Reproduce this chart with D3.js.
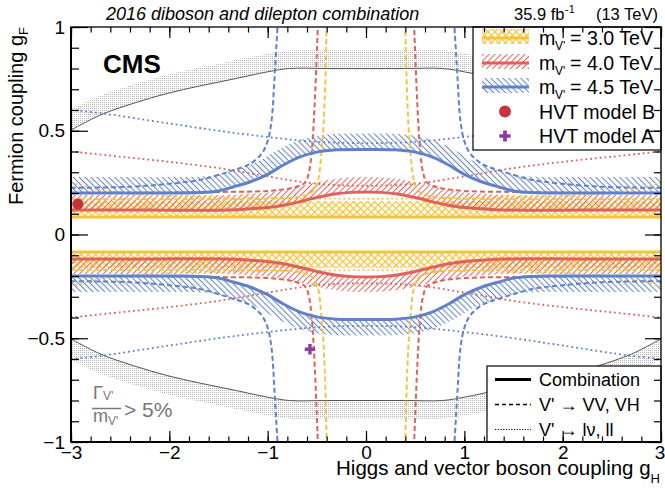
<!DOCTYPE html>
<html>
<head>
<meta charset="utf-8">
<script src="https://cdn.jsdelivr.net/npm/d3@7"></script>
<style>
  body { margin: 0; background: #fff; }
  svg { display: block; font-family: "Liberation Sans", Arial, sans-serif; }
</style>
</head>
<body>
<svg id="chart" width="665" height="496"></svg>
<script>
// limits: upper-left branch only (gH <= 0, gF > 0),
// the other three quadrants are mirror images of it
const combYellow = [[-3, 0.084], [-2, 0.084], [-1, 0.084], [0, 0.084]];
const combRed = [[-3, 0.118], [-2.2, 0.118], [-1.4, 0.118], [-1.18, 0.124], [-1.0, 0.13], [-0.85, 0.14], [-0.7, 0.155], [-0.5, 0.178], [-0.3, 0.196], [-0.15, 0.203], [0, 0.205]];
const combBlue = [[-3, 0.2], [-2.4, 0.2], [-1.9, 0.2], [-1.69, 0.202], [-1.5, 0.21], [-1.35, 0.229], [-1.18, 0.253], [-1.0, 0.29], [-0.84, 0.335], [-0.67, 0.374], [-0.5, 0.397], [-0.3, 0.408], [0, 0.41]];

const vvYellow = [[-3, 0.17], [-2, 0.17], [-1, 0.172], [-0.7, 0.18], [-0.56, 0.2], [-0.5, 0.24], [-0.45, 0.41], [-0.42, 0.65], [-0.4, 1.0]];
const vvRed = [[-3, 0.2], [-2, 0.202], [-1.5, 0.205], [-1.0, 0.21], [-0.75, 0.225], [-0.62, 0.25], [-0.58, 0.3], [-0.55, 0.41], [-0.52, 0.65], [-0.49, 1.0]];
const vvBlue = [[-3, 0.225], [-2.4, 0.23], [-2.0, 0.245], [-1.69, 0.263], [-1.35, 0.31], [-1.18, 0.34], [-1.06, 0.39], [-1.0, 0.45], [-0.96, 0.55], [-0.93, 0.76], [-0.9, 1.0]];

const llYellow = [[-3, 0.25], [-2.7, 0.215], [-2.2, 0.19], [-1.5, 0.18], [-0.8, 0.175], [0, 0.172]];
const llRed = [[-3, 0.40], [-2.5, 0.375], [-2.0, 0.35], [-1.5, 0.32], [-1.0, 0.28], [-0.6, 0.25], [-0.3, 0.238], [0, 0.235]];
const llBlue = [[-3, 0.60], [-2.7, 0.585], [-2.0, 0.535], [-1.5, 0.50], [-1.0, 0.47], [-0.5, 0.447], [0, 0.44]];

// Gamma/m = 5% contour
const widthLine = [[-3, 0.503], [-2.7, 0.576], [-2.36, 0.633], [-2.02, 0.68], [-1.69, 0.716], [-1.35, 0.749], [-1.0, 0.784], [-0.78, 0.8], [-0.4, 0.8], [0, 0.8]];

const modelB = [[-2.93, 0.147]];
const modelA = [[-0.57, -0.553]];

const massLabels = ['3.0', '4.0', '4.5'];
const styleLabels = ['Combination', 'V\' \u2192 VV, VH', 'V\' \u2192 l\u03bd, ll'];
const xTicks = [-3, -2, -1, 0, 1, 2, 3];
const yTicks = [-1, -0.5, 0, 0.5, 1];

const colors = { yellow: '#f4c53c', red: '#e0605a', blue: '#6080c8' };

const svg = d3.select('#chart');
const x = d3.scaleLinear().domain([-3, 3]).range([71, 661]);
const y = d3.scaleLinear().domain([-1, 1]).range([442, 27]);

const line = d3.line().x((d) => x(d[0])).y((d) => y(d[1])).curve(d3.curveCatmullRom.alpha(0.5));

// mirror helpers
const across = (pts) => pts.concat(pts.slice(0, -1).reverse().map(([h, f]) => [-h, f]));
const flipF = (pts, s) => pts.map(([h, f]) => [h, s * f]);
const flipH = (pts) => pts.map(([h, f]) => [-h, f]);

/* ---------- patterns ---------- */
const defs = svg.append('defs');
defs.append('clipPath').attr('id', 'plot')
  .append('rect').attr('x', x(-3)).attr('y', y(1)).attr('width', x(3) - x(-3)).attr('height', y(-1) - y(1));

function hatch(id, color, angle, gap, sw, cross) {
  const p = defs.append('pattern').attr('id', id).attr('patternUnits', 'userSpaceOnUse')
    .attr('width', gap).attr('height', gap).attr('patternTransform', `rotate(${angle})`);
  p.append('line').attr('x1', gap / 2).attr('y1', -1).attr('x2', gap / 2).attr('y2', gap + 1)
    .attr('stroke', color).attr('stroke-width', sw);
  if (cross) {
    p.append('line').attr('x1', -1).attr('y1', gap / 2).attr('x2', gap + 1).attr('y2', gap / 2)
      .attr('stroke', color).attr('stroke-width', sw);
  }
}
hatch('hY', colors.yellow, 45, 5, 1.3, true);
hatch('hR', colors.red, 45, 4.2, 1);
hatch('hB', colors.blue, -45, 4.2, 1);

const dots = defs.append('pattern').attr('id', 'dots').attr('patternUnits', 'userSpaceOnUse')
  .attr('width', 2).attr('height', 2);
dots.append('rect').attr('width', 1).attr('height', 1).attr('fill', '#b4b4b4');

/* ---------- hatched side of a line (offset in pixels) ---------- */
function sample(pts) {
  const p = svg.append('path').attr('d', line(pts));
  const node = p.node();
  const len = node.getTotalLength();
  const out = [];
  for (let s = 0; s < len; s += 1.5) {
    const q = node.getPointAtLength(s);
    out.push([q.x, q.y]);
  }
  const q = node.getPointAtLength(len);
  out.push([q.x, q.y]);
  p.remove();
  return out;
}

function band(pts, w, dir) {
  const a = sample(pts);
  const off = a.map((p, i) => {
    const p0 = a[Math.max(i - 1, 0)];
    const p1 = a[Math.min(i + 1, a.length - 1)];
    const tx = p1[0] - p0[0];
    const ty = p1[1] - p0[1];
    const n = Math.hypot(tx, ty) || 1;
    return [p[0] + dir * (-ty / n) * w, p[1] + dir * (tx / n) * w];
  });
  return `M${a.concat(off.reverse()).map((p) => p.join(',')).join('L')}Z`;
}

const plot = svg.append('g').attr('clip-path', 'url(#plot)');

// width contour with its stippled side
[1, -1].forEach((s) => {
  plot.append('path').attr('d', band(flipF(across(widthLine), s), 18, -s)).attr('fill', 'url(#dots)');
});
[1, -1].forEach((s) => {
  plot.append('path').attr('d', line(flipF(across(widthLine), s)))
    .attr('fill', 'none').attr('stroke', '#555').attr('stroke-width', 1);
});

const masses = [
  { comb: combYellow, vv: vvYellow, ll: llYellow, color: colors.yellow, pat: 'hY', w: 16 },
  { comb: combRed, vv: vvRed, ll: llRed, color: colors.red, pat: 'hR', w: 15 },
  { comb: combBlue, vv: vvBlue, ll: llBlue, color: colors.blue, pat: 'hB', w: 16 },
];

// hatched excluded side
masses.forEach((m) => {
  [1, -1].forEach((s) => {
    plot.append('path').attr('d', band(flipF(across(m.comb), s), m.w, -s)).attr('fill', `url(#${m.pat})`);
  });
});

// dilepton limits (dotted)
masses.forEach((m) => {
  [1, -1].forEach((s) => {
    plot.append('path').attr('d', line(flipF(across(m.ll), s)))
      .attr('fill', 'none').attr('stroke', m.color).attr('stroke-width', 1.8)
      .attr('stroke-dasharray', '1.8,3');
  });
});

// diboson limits (dashed)
masses.forEach((m) => {
  [1, -1].forEach((s) => {
    [m.vv, flipH(m.vv)].forEach((branch) => {
      plot.append('path').attr('d', line(flipF(branch, s)))
        .attr('fill', 'none').attr('stroke', m.color).attr('stroke-width', 2)
        .attr('stroke-dasharray', '5,3');
    });
  });
});

// combination (solid)
masses.forEach((m) => {
  [1, -1].forEach((s) => {
    plot.append('path').attr('d', line(flipF(across(m.comb), s)))
      .attr('fill', 'none').attr('stroke', m.color).attr('stroke-width', 3);
  });
});

// benchmark models
plot.selectAll('.mb').data(modelB).enter().append('circle')
  .attr('cx', (d) => x(d[0])).attr('cy', (d) => y(d[1])).attr('r', 5.5).attr('fill', '#c8323a');
plot.selectAll('.ma').data(modelA).enter().append('path')
  .attr('transform', (d) => `translate(${x(d[0])},${y(d[1])})`)
  .attr('d', d3.symbol(d3.symbolCross, 60)).attr('fill', '#8c3ca0');

/* ---------- Gamma/m label ---------- */
const gm = svg.append('g').attr('fill', '#777');
gm.append('text').attr('x', 93).attr('y', 398.5).attr('font-size', 18).text('\u0393')
  .append('tspan').attr('font-size', 12).attr('dy', 1).text('V\'');
gm.append('line').attr('x1', 92).attr('x2', 121).attr('y1', 408.5).attr('y2', 408.5)
  .attr('stroke', '#777').attr('stroke-width', 1.5);
gm.append('text').attr('x', 93).attr('y', 422).attr('font-size', 18).text('m')
  .append('tspan').attr('font-size', 12).attr('dy', 3).text('V\'');
gm.append('text').attr('x', 124).attr('y', 417).attr('font-size', 21).text('> 5%');

/* ---------- legends ---------- */
const leg1 = svg.append('g');
leg1.append('rect').attr('x', 473).attr('y', 27).attr('width', 188).attr('height', 123)
  .attr('fill', '#fff').attr('stroke', '#000').attr('stroke-width', 1.2);
const rows1 = [38, 63, 87, 111.5, 136];
masses.forEach((m, i) => {
  const cy = rows1[i];
  leg1.append('rect').attr('x', 482).attr('y', cy - 9).attr('width', 47).attr('height', 15)
    .attr('fill', `url(#${m.pat})`);
  leg1.append('line').attr('x1', 482).attr('x2', 529).attr('y1', cy).attr('y2', cy)
    .attr('stroke', m.color).attr('stroke-width', 3);
  leg1.append('text').attr('x', 539).attr('y', cy + 7).attr('font-size', 19.6).text('m');
  leg1.append('text').attr('x', 555).attr('y', cy + 12).attr('font-size', 12).text('V\'');
  leg1.append('text').attr('x', 570).attr('y', cy + 7).attr('font-size', 19.6).text(`= ${massLabels[i]} TeV`);
});
leg1.append('circle').attr('cx', 505).attr('cy', rows1[3]).attr('r', 6).attr('fill', '#c8323a');
leg1.append('path').attr('transform', `translate(505,${rows1[4]})`)
  .attr('d', d3.symbol(d3.symbolCross, 70)).attr('fill', '#8c3ca0');
leg1.append('text').attr('x', 539).attr('y', rows1[3] + 7).attr('font-size', 19.6).text('HVT model B');
leg1.append('text').attr('x', 539).attr('y', rows1[4] + 7).attr('font-size', 19.6).text('HVT model A');

const leg2 = svg.append('g');
leg2.append('rect').attr('x', 487).attr('y', 366).attr('width', 174).attr('height', 76)
  .attr('fill', '#fff').attr('stroke', '#000').attr('stroke-width', 1.2);
const rows2 = [379.5, 404.5, 429.5];
const dashes = [null, '4,3', '1.2,1.5'];
const widths = [3, 1.5, 1.2];
styleLabels.forEach((label, i) => {
  leg2.append('line').attr('x1', 495).attr('x2', 531).attr('y1', rows2[i]).attr('y2', rows2[i])
    .attr('stroke', '#000').attr('stroke-width', widths[i]).attr('stroke-dasharray', dashes[i]);
  leg2.append('text').attr('x', 539).attr('y', rows2[i] + 6.5).attr('font-size', 18).text(label);
});

/* ---------- frame and axes ---------- */
function styleAxis(g) {
  g.select('.domain').remove();
  g.selectAll('line').attr('stroke', '#000').attr('stroke-width', 1.2);
  g.attr('font-family', null).attr('font-size', 19);
  g.selectAll('text').attr('fill', '#000');
}
const xMinor = d3.range(-3, 3.001, 0.2);
const yMinor = d3.range(-1, 1.001, 0.1);
const fmt = d3.format('');

const xAxisG = svg.append('g').attr('transform', `translate(0,${y(-1)})`)
  .call(d3.axisBottom(x).tickValues(xTicks).tickSizeInner(-11).tickSizeOuter(0).tickPadding(4).tickFormat(fmt))
  .call(styleAxis);
// keep the last label inside the window
xAxisG.selectAll('text').filter((d) => d === 3).attr('dx', -1.5);
svg.append('g').attr('transform', `translate(0,${y(-1)})`)
  .call(d3.axisBottom(x).tickValues(xMinor).tickSizeInner(-5.5).tickSizeOuter(0).tickFormat(''))
  .call(styleAxis);
svg.append('g').attr('transform', `translate(0,${y(1)})`)
  .call(d3.axisTop(x).tickValues(xTicks).tickSizeInner(-11).tickSizeOuter(0).tickFormat(''))
  .call(styleAxis);
svg.append('g').attr('transform', `translate(0,${y(1)})`)
  .call(d3.axisTop(x).tickValues(xMinor).tickSizeInner(-5.5).tickSizeOuter(0).tickFormat(''))
  .call(styleAxis);
svg.append('g').attr('transform', `translate(${x(-3)},0)`)
  .call(d3.axisLeft(y).tickValues(yTicks).tickSizeInner(-17).tickSizeOuter(0).tickPadding(6).tickFormat(fmt))
  .call(styleAxis);
svg.append('g').attr('transform', `translate(${x(-3)},0)`)
  .call(d3.axisLeft(y).tickValues(yMinor).tickSizeInner(-8).tickSizeOuter(0).tickFormat(''))
  .call(styleAxis);
svg.append('g').attr('transform', `translate(${x(3)},0)`)
  .call(d3.axisRight(y).tickValues(yTicks).tickSizeInner(-16).tickSizeOuter(0).tickFormat(''))
  .call(styleAxis);
svg.append('g').attr('transform', `translate(${x(3)},0)`)
  .call(d3.axisRight(y).tickValues(yMinor).tickSizeInner(-7).tickSizeOuter(0).tickFormat(''))
  .call(styleAxis);

svg.append('rect').attr('x', x(-3)).attr('y', y(1)).attr('width', x(3) - x(-3)).attr('height', y(-1) - y(1))
  .attr('fill', 'none').attr('stroke', '#000').attr('stroke-width', 1.3);
svg.append('line').attr('x1', x(-3)).attr('x2', x(-3)).attr('y1', y(1)).attr('y2', y(-1))
  .attr('stroke', '#000').attr('stroke-width', 2);
svg.append('line').attr('x1', x(-3)).attr('x2', x(3)).attr('y1', y(-1)).attr('y2', y(-1))
  .attr('stroke', '#000').attr('stroke-width', 2);

// axis titles
const yt = svg.append('text').attr('transform', 'translate(23,27) rotate(-90)')
  .attr('text-anchor', 'end').attr('font-size', 20).text('Fermion coupling g');
yt.append('tspan').attr('font-size', 13).attr('dy', 5).text('F');
const xt = svg.append('text').attr('x', 660).attr('y', 475)
  .attr('text-anchor', 'end').attr('font-size', 20.5).text('Higgs and vector boson coupling g');
xt.append('tspan').attr('font-size', 13).attr('dy', 8).text('H');

// header
svg.append('text').attr('x', 106).attr('y', 20).attr('font-size', 18).attr('font-style', 'italic')
  .text('2016 diboson and dilepton combination');
svg.append('text').attr('x', 514).attr('y', 20).attr('font-size', 16.5).text('35.9 fb');
svg.append('text').attr('x', 565).attr('y', 13).attr('font-size', 11).text('-1');
svg.append('text').attr('x', 658).attr('y', 20).attr('font-size', 16.5).attr('text-anchor', 'end').text('(13 TeV)');
svg.append('text').attr('x', 103).attr('y', 73).attr('font-size', 26).attr('font-weight', 'bold').text('CMS');
</script>
</body>
</html>
